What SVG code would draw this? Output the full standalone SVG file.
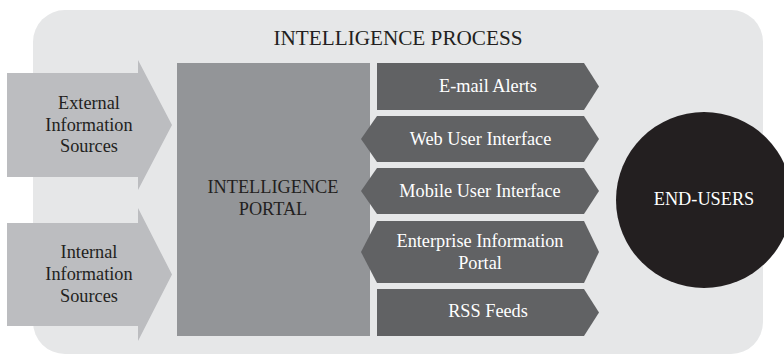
<svg xmlns="http://www.w3.org/2000/svg" width="784" height="354" viewBox="0 0 784 354">
  <style>
    text { font-family: "Liberation Serif", "Times New Roman", serif; font-size: 18.3px; text-anchor: middle; }
    text.title { font-size: 21.2px; }
    .dark { fill: #231f20; }
    .light { fill: #ffffff; }
    .src { fill: #bcbdc0; }
    .out { fill: #616264; }
  </style>
  <!-- frame -->
  <g id="process">
    <rect x="33" y="10" width="730" height="344" rx="32" ry="32" fill="#e6e7e8"/>
    <text class="dark title" x="398" y="45">INTELLIGENCE PROCESS</text>
  </g>
  <!-- information sources -->
  <g id="external-sources">
    <polygon class="src" points="7,73 138,73 138,60 172,125 138,190 138,177 7,177"/>
    <text class="dark" x="89" y="109">External</text>
    <text class="dark" x="89" y="130.5">Information</text>
    <text class="dark" x="89" y="152">Sources</text>
  </g>
  <g id="internal-sources">
    <polygon class="src" points="7,223 138,223 138,208 172,274.5 138,341 138,326 7,326"/>
    <text class="dark" x="89" y="258">Internal</text>
    <text class="dark" x="89" y="280">Information</text>
    <text class="dark" x="89" y="302">Sources</text>
  </g>
  <!-- portal -->
  <g id="portal">
    <rect x="177" y="63" width="193" height="273" fill="#939598"/>
    <text class="dark" x="273" y="193">INTELLIGENCE</text>
    <text class="dark" x="273" y="215">PORTAL</text>
  </g>
  <!-- delivery channels -->
  <g id="email-alerts">
    <polygon class="out" points="377,63 584,63 599,86.5 584,110 377,110"/>
    <text class="light" x="488" y="92">E-mail Alerts</text>
  </g>
  <g id="web-ui">
    <polygon class="out" points="377,116 584,116 599,139 584,162 377,162 361,139"/>
    <text class="light" x="480.5" y="145">Web User Interface</text>
  </g>
  <g id="mobile-ui">
    <polygon class="out" points="377,168 584,168 599,191 584,214 377,214 361,191"/>
    <text class="light" x="480" y="197">Mobile User Interface</text>
  </g>
  <g id="enterprise-portal">
    <polygon class="out" points="377,221 584,221 599,252 584,283 377,283 361,252"/>
    <text class="light" x="480" y="247">Enterprise Information</text>
    <text class="light" x="480" y="268.5">Portal</text>
  </g>
  <g id="rss-feeds">
    <polygon class="out" points="377,289 584,289 599,312.5 584,336 377,336"/>
    <text class="light" x="488" y="317">RSS Feeds</text>
  </g>
  <!-- audience -->
  <g id="end-users">
    <circle cx="704" cy="200" r="88" fill="#231f20"/>
    <text class="light" x="704" y="205">END-USERS</text>
  </g>
  <g id="connectors"></g>
</svg>
